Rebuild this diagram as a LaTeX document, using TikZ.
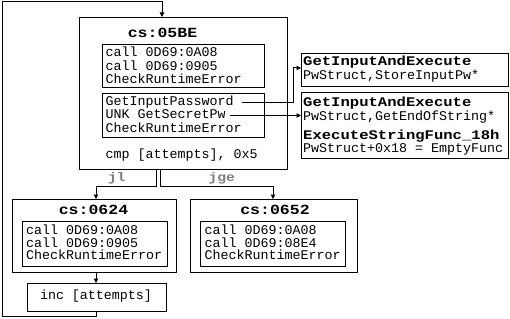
\documentclass[tikz,border=0pt]{standalone}
\usepackage{fontspec}
\newfontfamily\mono{Liberation Mono}
\newfontfamily\monowide{Liberation Mono}[FakeStretch=1.18]
\usetikzlibrary{arrows.meta}
\begin{document}
\begin{tikzpicture}[x=1pt,y=-1pt,
  box/.style={draw,line width=1pt,inner sep=0pt,anchor=north west},
  ln/.style={anchor=base west,inner sep=0pt,font=\mono\fontsize{13.33}{14}\selectfont},
  hd/.style={anchor=base,inner sep=0pt,font=\monowide\bfseries\fontsize{14}{15}\selectfont},
  rh/.style={anchor=base west,inner sep=0pt,font=\monowide\bfseries\fontsize{13.2}{14}\selectfont},
  lbl/.style={anchor=base,inner sep=0pt,text=black!50,font=\monowide\bfseries\fontsize{12.5}{13}\selectfont},
  conn/.style={line width=1pt},
  arr/.style={conn,-{Triangle[length=4.5pt,width=4.5pt]}}]
\useasboundingbox (0,0) rectangle (510,318);

% boxes
\node[box,minimum width=208pt,minimum height=152pt] (main) at (79,17) {};
\node[box,minimum width=162pt,minimum height=43pt] (i1) at (102,44) {};
\node[box,minimum width=162pt,minimum height=44pt] (i2) at (102,93) {};
\node[box,minimum width=207pt,minimum height=33pt] (ra) at (301,53) {};
\node[box,minimum width=207pt,minimum height=66pt] (rb) at (301,92) {};
\node[box,minimum width=164pt,minimum height=73pt] (b1) at (12,199) {};
\node[box,minimum width=145pt,minimum height=45pt] (b1i) at (22,221) {};
\node[box,minimum width=167pt,minimum height=73pt] (b2) at (190,199) {};
\node[box,minimum width=145pt,minimum height=45pt] (b2i) at (200,221) {};
\node[box,minimum width=139pt,minimum height=28pt] (inc) at (27,283) {};

% main box texts
\node[hd] (t0) at (162.5,37.5) {cs:05BE};
\node[ln] (i1a) at (105.5,57) {call 0D69:0A08};
\node[ln] (i1b) at (105.5,70.5) {call 0D69:0905};
\node[ln] (i1c) at (105.5,84) {CheckRuntimeError};
\node[ln] (i2a) at (105.5,105) {GetInputPassword};
\node[ln] (i2b) at (105.5,118.5) {UNK GetSecretPw};
\node[ln] (i2c) at (105.5,132) {CheckRuntimeError};
\node[ln] (cmp) at (105.5,158) {cmp [attempts], 0x5};

% right boxes texts
\node[rh] (raa) at (303,66) {GetInputAndExecute};
\node[ln] (rab) at (303,79.5) {PwStruct,StoreInputPw*};
\node[rh] (rba) at (303,106.5) {GetInputAndExecute};
\node[ln] (rbb) at (303,120) {PwStruct,GetEndOfString*};
\node[rh] (rbc) at (303,139.5) {ExecuteStringFunc\_18h};
\node[ln] (rbd) at (303,152) {PwStruct+0x18 = EmptyFunc};

% lower boxes texts
\node[hd] (t1) at (93.5,214) {cs:0624};
\node[ln] (b1a) at (26,234.5) {call 0D69:0A08};
\node[ln] (b1b) at (26,247) {call 0D69:0905};
\node[ln] (b1c) at (26,259.5) {CheckRuntimeError};
\node[hd] (t2) at (275,214) {cs:0652};
\node[ln] (b2a) at (204.5,234.5) {call 0D69:0A08};
\node[ln] (b2b) at (204.5,247) {call 0D69:08E4};
\node[ln] (b2c) at (204.5,259.5) {CheckRuntimeError};
\node[anchor=base,inner sep=0pt,font=\mono\fontsize{13.33}{14}\selectfont] (inct) at (96,299) {inc [attempts]};

% branch labels
\node[lbl] (jl) at (116.7,181.5) {jl};
\node[lbl] (jge) at (221.7,181.5) {jge};

% connectors
\coordinate (mL) at (156,169);
\coordinate (mR) at (160,169);
\coordinate (jL) at (96,186);
\coordinate (jR) at (273,186);
\draw[arr] (mL) |- (jL) -- (jL |- b1.north);
\draw[arr] (mR) |- (jR) -- (jR |- b2.north);
\draw[arr] (jL |- b1.south) -- (jL |- inc.north);

\coordinate (lp1) at (2,316);
\coordinate (mt) at (162,2);
\draw[arr] (jL |- inc.south) |- (lp1) |- (mt) -- (mt |- main.north);

\coordinate (gp) at (242,102);
\coordinate (gpv) at (293,102);
\coordinate (ra1) at (293,68);
\draw[arr] (gp) -- (gpv) -- (ra1) -- (ra1 -| ra.west);

\coordinate (sp) at (230,115.5);
\draw[arr] (sp) -- (sp -| rb.west);
\end{tikzpicture}
\end{document}
